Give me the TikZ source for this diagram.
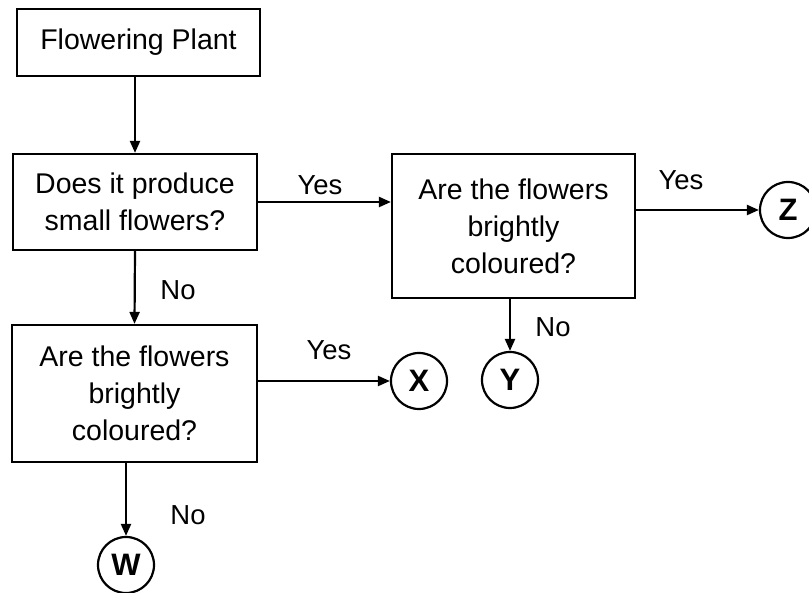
\documentclass[tikz,border=0pt]{standalone}
\usepackage{fontspec}
\setmainfont{Liberation Sans}
\usetikzlibrary{arrows.meta}
\begin{document}
\begin{tikzpicture}[x=1pt,y=-1pt,
  box/.style={draw,line width=2.2pt,align=center,inner sep=0pt,
    font=\fontsize{28.5}{37}\selectfont},
  leaf/.style={draw,circle,line width=2.2pt,minimum size=56pt,inner sep=0pt,
    font=\fontsize{31}{34}\selectfont\bfseries},
  lbl/.style={font=\fontsize{27.5}{32}\selectfont,inner sep=0pt},
  arr/.style={line width=2.2pt,-{Triangle[length=12pt,width=10pt]}}]
\useasboundingbox (0,0) rectangle (809,593);
\node[box,minimum width=243pt,minimum height=67pt] (b1) at (138.5,42.5) {Flowering Plant};
\node[box,minimum width=244pt,minimum height=96pt] (b2) at (135,202) {Does it produce\\small flowers?};
\node[box,minimum width=243pt,minimum height=144pt] (b3) at (513.5,226) {Are the flowers\\brightly\\coloured?};
\node[box,minimum width=245pt,minimum height=137pt] (b4) at (134.5,393.5) {Are the flowers\\brightly\\coloured?};
\node[leaf] (X) at (419,381) {X};
\node[leaf] (Y) at (510,380) {Y};
\node[leaf] (Z) at (788,210) {Z};
\node[leaf] (W) at (126,565) {W};
\draw[arr] (b1.south -| b2.north) -- (b2.north);
\draw[arr] (b2.east) -- (b2.east -| b3.west);
\draw[arr] (b2.south) -- (b4.north);
\draw[arr] (b3.east |- Z) -- (Z);
\draw[arr] (Y |- b3.south) -- (Y);
\draw[arr] (b4.east |- X) -- (X);
\draw[arr] (W |- b4.south) -- (W);
\node[lbl] (l1) at (320,185) {Yes};
\node[lbl] (l2) at (178,290) {No};
\node[lbl] (l3) at (681,180) {Yes};
\node[lbl] (l4) at (553,327) {No};
\node[lbl] (l5) at (329,350) {Yes};
\node[lbl] (l6) at (188,515) {No};
\end{tikzpicture}
\end{document}
